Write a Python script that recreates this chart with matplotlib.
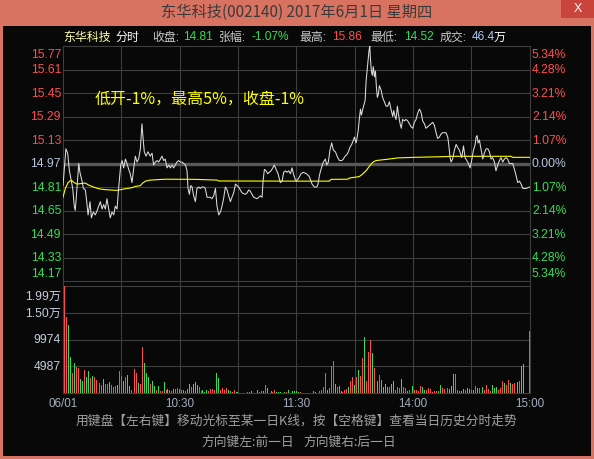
import matplotlib
matplotlib.use('Agg')
import matplotlib.pyplot as plt
from matplotlib.patches import Rectangle
from matplotlib.lines import Line2D
from matplotlib.transforms import blended_transform_factory as blend
import numpy as np

# ---- data ----
prev_close = 14.97

# price line: minute index (0 = 9:30, 120 = 11:30/13:00, 240 = 15:00) and price
price_min = [0, 1.5, 2.4, 3.3, 5.0, 5.8, 6.3, 7.0, 8.1, 8.7, 9.8, 10.5, 11.5, 12.2, 12.9, 13.9, 14.6, 15.6,
             16.6, 17.3, 18.4, 19.2, 20.1, 20.9, 21.8, 22.6, 23.5, 24.3, 25.2, 26.1, 26.9, 27.8, 28.6, 29.7,
             30.4, 31.2, 32.1, 32.9, 33.8, 34.6, 35.5, 36.4, 37.2, 38.1, 38.9, 39.8, 40.6, 41.2, 41.8, 42.7,
             43.7, 44.8, 45.8, 46.6, 47.5, 48.4, 49.2, 50.1, 50.9, 51.8, 52.6, 53.5, 54.4, 55.2, 56.1, 56.9,
             57.8, 58.6, 59.5, 60.4, 61.2, 62.1, 63.0, 63.8, 64.3, 65.0, 65.7, 66.4, 67.2, 68.1, 68.9, 69.8,
             70.6, 71.5, 72.4, 73.2, 74.1, 75.8, 76.6, 77.5, 78.4, 79.2, 80.1, 81.0, 81.8, 82.6, 83.5, 84.4,
             85.2, 86.1, 86.9, 87.8, 88.7, 89.5, 90.4, 91.2, 92.1, 93.8, 94.7, 95.5, 96.4, 97.2, 98.1, 99.8,
             100.7, 101.5, 102.4, 102.9, 103.6, 104.4, 105.3, 107.0, 107.9, 108.7, 109.6, 110.6, 111.8, 112.7,
             113.5, 114.4, 115.2, 116.1, 117.0, 117.8, 118.7, 119.5, 120.0,
             121.2, 122.4, 123.6, 125.3, 126.7, 128.1, 129.3, 130.5, 131.2, 131.9, 132.7, 133.6, 134.4, 135.0,
             135.6, 136.5, 137.3, 138.2, 139.1, 140.1, 141.3, 142.2, 143.4, 144.2, 145.1, 146.0, 146.8, 147.6,
             148.5, 149.4, 149.9, 150.7, 151.2, 151.8, 152.4, 153.0, 153.5, 154.2, 154.8, 155.4, 155.9, 156.4,
             156.9, 157.4, 157.8, 158.1, 158.6, 159.1, 159.6, 160.2, 160.7, 161.2, 161.7, 162.2, 162.7, 163.6,
             164.4, 165.3, 166.2, 167.0, 167.9, 168.7, 169.6, 170.1, 170.8, 171.3, 172.0, 172.5, 173.4, 174.0,
             174.7, 175.6, 176.4, 177.3, 178.2, 179.0, 179.9, 180.7, 181.6, 182.4, 183.3, 183.8, 184.3, 185.0,
             185.9, 186.7, 187.6, 188.4, 189.3, 190.2, 191.0, 191.9, 192.7, 193.6, 194.4, 195.3, 197.0, 197.9,
             198.4, 199.1, 199.6, 200.4, 201.3, 202.2, 203.0, 203.9, 204.4, 205.1, 206.0, 206.8, 207.7, 208.5,
             209.4, 210.2, 211.1, 212.0, 212.5, 213.0, 213.5, 214.2, 214.7, 215.4, 215.9, 216.7, 217.6, 218.5,
             219.3, 220.2, 221.0, 221.9, 222.7, 223.6, 224.5, 225.3, 226.2, 227.0, 227.9, 228.7, 229.6, 231.3,
             232.2, 233.0, 233.9, 234.8, 235.6, 236.5, 238.2, 240]
price_val = [14.82, 15.07, 15.04, 14.92, 14.80, 14.68, 14.65, 14.77, 14.97, 14.91, 14.85, 14.80, 14.79, 14.71,
             14.62, 14.71, 14.60, 14.64, 14.62, 14.64, 14.68, 14.71, 14.66, 14.69, 14.66, 14.73, 14.66, 14.60,
             14.64, 14.62, 14.68, 14.66, 14.80, 14.96, 14.99, 14.94, 15.00, 14.97, 14.93, 14.90, 14.84, 14.94,
             15.02, 14.98, 15.00, 15.07, 15.24, 15.14, 15.05, 15.02, 15.05, 15.02, 15.04, 14.96, 14.98, 14.99,
             14.98, 15.00, 15.02, 14.99, 15.00, 14.94, 14.96, 14.94, 14.96, 14.94, 14.96, 14.98, 14.99, 14.98,
             14.98, 14.97, 14.96, 14.92, 14.80, 14.76, 14.82, 14.81, 14.75, 14.71, 14.80, 14.81, 14.80, 14.81,
             14.81, 14.80, 14.74, 14.74, 14.73, 14.75, 14.80, 14.68, 14.62, 14.64, 14.68, 14.73, 14.81, 14.79,
             14.75, 14.71, 14.74, 14.77, 14.83, 14.82, 14.81, 14.79, 14.77, 14.76, 14.77, 14.79, 14.78, 14.76,
             14.74, 14.73, 14.74, 14.75, 14.74, 14.85, 14.93, 14.92, 14.90, 14.92, 14.94, 14.96, 14.93, 14.90,
             14.84, 14.85, 14.91, 14.92, 14.91, 14.92, 14.90, 14.94, 14.89, 14.86, 14.85,
             14.87, 14.90, 14.91, 14.90, 14.88, 14.83, 14.81, 14.81, 14.83, 14.89, 14.93, 14.97, 14.99, 15.00,
             14.96, 14.98, 15.06, 15.11, 15.06, 15.05, 15.01, 14.99, 14.99, 15.00, 15.02, 15.03, 15.05, 15.08,
             15.10, 15.13, 15.15, 15.11, 15.14, 15.19, 15.27, 15.34, 15.30, 15.34, 15.37, 15.40, 15.53, 15.60,
             15.67, 15.74, 15.77, 15.69, 15.60, 15.57, 15.63, 15.56, 15.60, 15.49, 15.42, 15.44, 15.50, 15.47,
             15.42, 15.39, 15.36, 15.36, 15.39, 15.34, 15.29, 15.33, 15.29, 15.27, 15.36, 15.31, 15.24, 15.21,
             15.27, 15.26, 15.27, 15.26, 15.24, 15.22, 15.21, 15.25, 15.27, 15.31, 15.34, 15.33, 15.31, 15.26,
             15.24, 15.21, 15.22, 15.23, 15.24, 15.25, 15.23, 15.18, 15.14, 15.15, 15.17, 15.18, 15.18, 15.15,
             15.10, 15.01, 14.98, 15.00, 15.06, 15.10, 15.08, 15.06, 15.04, 15.01, 15.09, 15.01, 14.99, 14.97,
             14.94, 14.99, 15.06, 15.10, 15.15, 15.16, 15.11, 15.13, 15.09, 15.04, 15.00, 15.04, 15.07, 15.07,
             15.05, 15.00, 15.01, 14.98, 14.92, 14.96, 14.99, 15.01, 14.98, 15.00, 15.01, 15.00, 14.97, 14.97,
             14.93, 14.89, 14.84, 14.85, 14.83, 14.80, 14.80, 14.81]

# average price line
avg_min = [0, 1.2, 2.6, 3.8, 4.6, 5.5, 7.2, 11.5, 13.2, 14.9, 16.6, 19.2, 21.8, 25.2, 27.8, 30.4, 32.9, 35.5,
           37.2, 39.8, 41.0, 42.4, 44.9, 52.6, 68.1, 79.2, 80.1, 120, 137.0, 137.9, 146.4, 147.3, 149.9,
           152.4, 154.2, 155.9, 157.6, 159.3, 161.0, 163.6, 167.0, 172.2, 180.7, 197.0, 199.6, 230.5, 231.3, 240]
avg_val = [14.74, 14.80, 14.84, 14.853, 14.853, 14.842, 14.83, 14.837, 14.823, 14.814, 14.805, 14.796, 14.792,
           14.789, 14.787, 14.794, 14.80, 14.805, 14.814, 14.819, 14.837, 14.85, 14.857, 14.863, 14.862,
           14.857, 14.851, 14.850, 14.850, 14.862, 14.863, 14.871, 14.876, 14.881, 14.899, 14.921, 14.951,
           14.978, 14.990, 14.994, 14.999, 15.008, 15.012, 15.017, 15.019, 15.019, 15.012, 15.012]

# per-minute volume (0..240) and up/down colour
volume = [14200, 19900, 14200, 12700, 6800, 3800, 5650, 4900, 4650, 2600,
          2300, 4300, 3050, 4050, 2800, 3150, 3050, 2400, 2400, 1900,
          1550, 2600, 1700, 1700, 2050, 1550, 1050, 1350, 1550, 4100,
          3150, 2300, 3050, 3350, 1300, 550, 1850, 4450, 3700, 1850,
          1750, 8650, 5650, 3700, 3050, 1700, 2250, 1350, 550, 1300,
          450, 450, 2100, 550, 750, 550, 450, 750, 750, 950,
          750, 550, 550, 450, 750, 1700, 1150, 1750, 2050, 1500,
          1050, 450, 550, 100, 550, 450, 750, 750, 550, 3700,
          2800,
          560, 930, 560, 930, 560, 370, 250, 560, 250, 250,
          0, 0, 0, 0, 250, 250, 370, 0, 0, 560,
          250, 370, 370, 1490, 930, 0, 370, 250, 560, 250,
          250, 250, 0, 250, 250, 560, 0, 370, 370, 370,
          250, 250, 0, 0, 0, 0, 0, 0, 370, 250,
          0, 370, 560, 1180, 3730, 560, 930, 5030, 5960, 1680,
          1120, 1310, 440, 190, 560, 750, 1180, 2240, 2980, 1490,
          2980, 4290, 3170, 6530, 10440, 2240, 7640, 9880, 7460, 4660,
          4475, 2240, 3360, 2430, 1120, 1680, 1120, 1120, 1680, 2240,
          560, 1120, 930, 2610, 1120, 930, 370, 560, 1310, 1310,
          560, 560, 370, 1310, 1120, 560, 560, 930, 750, 190,
          370, 370, 370, 1490, 930, 750, 370, 930, 750, 1310,
          3540, 3540, 560, 370, 370, 750, 560, 930, 750, 560,
          560, 1310, 930, 930, 750, 1120, 560, 1490, 750, 440,
          1490, 930, 1120, 560, 930, 2240, 1870, 1490, 2430, 1870,
          1680, 1870, 1310, 2050, 2240, 5030, 5410, 0, 0, 11620]
updown = ("grrggrgrrg" "grggrgrrgr" "rgrrgrrrgr" "rgrggrgrrg" "rrgggrggrg" "rrgrgrrgrr"
          "rrgrggrggg" "rrgggrrrrg" "g"
          "rrrrggrrgg" "rrrrrrgrrg" "rrgrgrgrrg" "ggrgrgrggg" "grrrrrrrgg" "rrrrrgrrrg"
          "rggrrrgrrg" "rgrrgrrrgr"
          "ggrggggrgg" "rrrgrrgrgg" "rrrrggrrrr" "rrggrrrrgg" "grrgggrggr" "grgrrgrrrr"
          "gggrrrgrrg" "rrggrggrrr")

price_ticks = [15.77, 15.61, 15.45, 15.29, 15.13, 14.97, 14.81, 14.65, 14.49, 14.33, 14.17]
pct_labels = ['5.34%', '4.28%', '3.21%', '2.14%', '1.07%', '0.00%',
              '1.07%', '2.14%', '3.21%', '4.28%', '5.34%']
vol_ticks = [19948, 14961, 9974, 4987]
vol_labels = ['1.99万', '1.50万', '9974', '4987']
time_ticks = [0, 60, 120, 180, 240]
time_labels = ['06/01', '10:30', '11:30', '14:00', '15:00']

# ---- colours ----
BG = '#080808'
GRID = '#3e3e3e'
RED = '#ff4d4d'
GREEN = '#33dd55'
NEUTRAL = '#b8c4dc'

W, H = 594, 460
def fx(x):
    return x / W
def fy(y):
    return 1 - y / H

plt.rcParams['font.family'] = ['Liberation Sans', 'Noto Sans CJK SC', 'DejaVu Sans']
CJK = ['Noto Sans CJK SC', 'DejaVu Sans']

fig = plt.figure(figsize=(5.94, 4.60), dpi=100)
fig.patch.set_facecolor('#d87361')
fig.add_artist(Rectangle((fx(3), fy(457)), fx(591) - fx(3), fy(27) - fy(457),
                         transform=fig.transFigure, facecolor=BG, edgecolor='none', zorder=0))
fig.add_artist(Rectangle((fx(561), fy(19)), fx(594) - fx(561), fy(0) - fy(19),
                         transform=fig.transFigure, facecolor='#c9443b', edgecolor='none', zorder=0))
fig.text(fx(577.5), fy(9.5), 'X', ha='center', va='center', color='white', fontsize=9)
fig.text(fx(297), fy(12.5), '东华科技(002140) 2017年6月1日 星期四', ha='center', va='center',
         color='#3a3a3a', fontsize=11, family=CJK)

# header row
header = [(63.5, '东华科技', '#ffffa0'), (116, '分时', '#ffffff'), (152, '收盘:', '#c8c8c8'),
          (183, '14.81', GREEN), (219, '张幅:', '#c8c8c8'), (252, '-1.07%', GREEN),
          (299, '最高:', '#c8c8c8'), (332, '15.86', RED), (370, '最低:', '#c8c8c8'),
          (404, '14.52', GREEN), (440, '成交:', '#c8c8c8'), (471.5, '46.4', '#b0c8e8'),
          (494, '万', '#ffffff')]
for x, s, c in header:
    fig.text(fx(x), fy(37.5), s, ha='left', va='center', color=c, fontsize=8.6)

# ---- price panel ----
ax = fig.add_axes([fx(63), fy(282), fx(529.6) - fx(63), fy(47) - fy(282)])
ax.set_facecolor(BG)
ax.set_xlim(0, 240)
ax.set_ylim(price_ticks[-1], price_ticks[0])
ax.set_xticks([])
ax.set_yticks([])
for s in ax.spines.values():
    s.set_color(GRID)
    s.set_linewidth(0.8)
for p in price_ticks[1:-1]:
    ax.axhline(p, color=GRID, lw=0.8, zorder=1)
for m in range(30, 240, 30):
    ax.axvline(m, color=GRID, lw=0.8, zorder=1)
ax.axhline(prev_close, color='#575757', lw=2.4, zorder=2)
ax.plot(avg_min, avg_val, color='#ffff00', lw=0.8, zorder=3)
ax.plot(price_min, price_val, color='#dcdcdc', lw=0.75, zorder=4)

tl = blend(fig.transFigure, ax.transData)
for i, (p, pl) in enumerate(zip(price_ticks, pct_labels)):
    c = RED if p > prev_close else (GREEN if p < prev_close else NEUTRAL)
    va = 'top' if i == 0 else ('bottom' if i == len(price_ticks) - 1 else 'center')
    off = -0.012 if i == 0 else (0.012 if i == len(price_ticks) - 1 else 0)
    ax.text(fx(61), p + off, f'{p:.2f}', transform=tl, ha='right', va='center' if off == 0 else va,
            color=c, fontsize=8.7)
    ax.text(fx(532), p + off, pl, transform=tl, ha='left', va='center' if off == 0 else va,
            color=c, fontsize=8.7)

fig.text(fx(95), fy(99), '低开-1%，最高5%，收盘-1%', ha='left', va='center',
         color='#ffff00', fontsize=11.5, family=CJK)

# ---- volume panel ----
axv = fig.add_axes([fx(63), fy(394), fx(529.6) - fx(63), fy(287) - fy(394)])
axv.set_facecolor(BG)
axv.set_xlim(0, 240)
axv.set_ylim(0, vol_ticks[0])
axv.set_xticks([])
axv.set_yticks([])
for s in axv.spines.values():
    s.set_color(GRID)
    s.set_linewidth(0.8)
for v in vol_ticks[1:]:
    axv.axhline(v, color=GRID, lw=0.8, zorder=1)
for m in range(30, 240, 30):
    axv.axvline(m, color=GRID, lw=0.8, zorder=1)
bar_colors = [RED if c == 'r' else GREEN for c in updown[:len(volume)]]
axv.bar(np.arange(len(volume)), volume, width=0.5, color=bar_colors, linewidth=0,
        antialiased=False, zorder=3, clip_on=False)

tv = blend(fig.transFigure, axv.transData)
for v, lab in zip(vol_ticks, vol_labels):
    axv.text(fx(61), v - (700 if v == vol_ticks[0] else 0), lab, transform=tv, ha='right',
             va='top' if v == vol_ticks[0] else 'center', color='#c4ccdc', fontsize=8.7)

# vertical grid continues through the gap between panels
tg = blend(ax.transData, fig.transFigure)
for m in range(0, 241, 30):
    fig.add_artist(Line2D([m, m], [fy(282), fy(287)], transform=tg, color=GRID, lw=0.8))

tt = blend(axv.transData, fig.transFigure)
for m, lab in zip(time_ticks, time_labels):
    fig.text(m, fy(404), lab, transform=tt, ha='center', va='center', color='#a4acbc', fontsize=8.4)

fig.text(fx(296.5), fy(421), '用键盘【左右键】移动光标至某一日K线，按【空格键】查看当日历史分时走势',
         ha='center', va='center', color='#a0a0a0', fontsize=9.2, family=CJK)
fig.text(fx(201), fy(442), '方向键左:前一日', ha='left', va='center', color='#a0a0a0', fontsize=9.2, family=CJK)
fig.text(fx(303), fy(442), '方向键右:后一日', ha='left', va='center', color='#a0a0a0', fontsize=9.2, family=CJK)

fig.savefig('out.png', dpi=100, facecolor=fig.get_facecolor())
